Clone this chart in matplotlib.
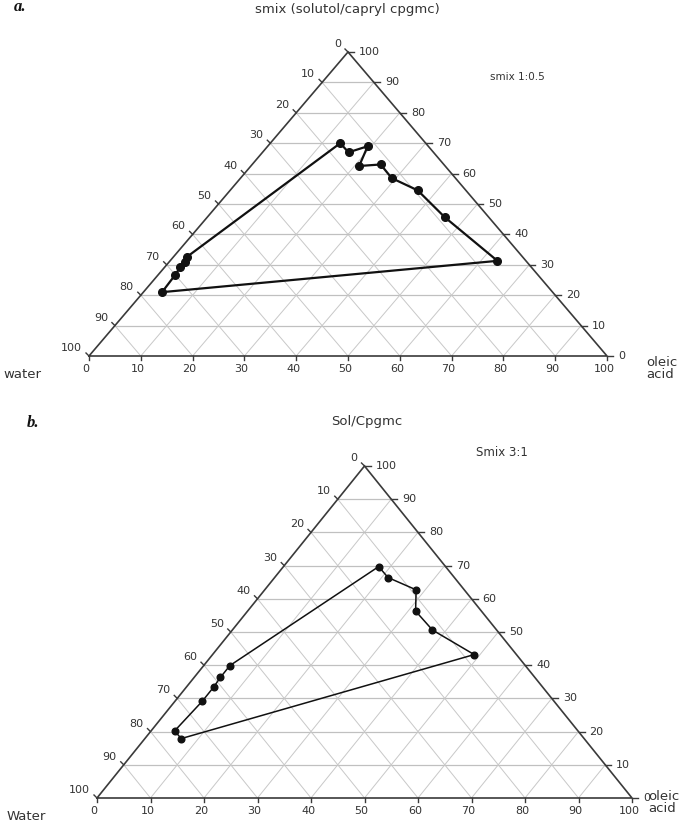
import matplotlib
matplotlib.use("Agg")
import matplotlib.pyplot as plt
import numpy as np

# ---------------- data (percent) ----------------
ticks = [0, 10, 20, 30, 40, 50, 60, 70, 80, 90, 100]

# panel a : Smix 1:0.5  (water = 100 - smix - oleic)
a_smix  = [70, 67, 69, 62.5, 63, 58.5, 54.5, 45.7, 31.3, 21.0, 26.6, 29.3, 31.0, 32.6]
a_oleic = [13.5, 16.6, 19.3, 20.9, 24.8, 29.2, 36.2, 45.8, 63.2, 3.6, 3.3, 3.0, 3.0, 2.6]

# panel b : Smix 3:1
b_smix  = [69.7, 66.4, 62.7, 56.3, 50.6, 43.2, 17.9, 20.2, 29.1, 33.4, 36.3, 39.9]
b_oleic = [17.8, 21.2, 28.3, 31.4, 37.4, 48.9, 6.8, 4.4, 5.1, 5.1, 4.9, 4.9]

TXT = "#333333"
W, H = 685, 824

fig = plt.figure(figsize=(W / 100, H / 100), dpi=100)


def tern(oleic, smix):
    o = np.asarray(oleic, float)
    s = np.asarray(smix, float)
    return o + s / 2.0, s


def panel(rect_px, smix, oleic, ms, lw, marker):
    x0, ytop, x1, ybase = rect_px
    wpx, hpx = x1 - x0, ybase - ytop
    ax = fig.add_axes([x0 / W, 1 - ybase / H, wpx / W, hpx / H])
    ax.set_xlim(0, 100)
    ax.set_ylim(0, 100)
    ax.axis("off")
    px_x = 100.0 / wpx
    px_y = 100.0 / hpx
    # grid
    for v in ticks[1:-1]:
        ax.plot([v / 2, 100 - v / 2], [v, v], color="#c0c0c0", lw=0.9, zorder=1)
        ax.plot([v, v + (100 - v) / 2], [0, 100 - v], color="#c8c8c8", lw=0.7, zorder=1)
        ax.plot([100 - v, (100 - v) / 2], [0, 100 - v], color="#c8c8c8", lw=0.7, zorder=1)
    # frame
    ax.plot([0, 100, 50, 0], [0, 0, 100, 0], color="#3a3a3a", lw=1.2, zorder=2,
            clip_on=False, solid_joinstyle="miter")
    # ticks + labels
    for v in ticks:
        ax.plot([v, v], [0, -4 * px_y], color="#3a3a3a", lw=1, clip_on=False)
        ax.annotate(str(v), (v, 0), xytext=(-3, -13), textcoords="offset pixels",
                    ha="center", va="center", fontsize=8, color=TXT, annotation_clip=False)
        xr = 100 - v / 2
        ax.plot([xr, xr + 6 * px_x], [v, v], color="#3a3a3a", lw=1, clip_on=False)
        ax.annotate(str(v), (xr, v), xytext=(11, 0), textcoords="offset pixels",
                    ha="left", va="center", fontsize=8, color=TXT, annotation_clip=False)
        sl = 100 - v
        xl = sl / 2
        ax.plot([xl, xl - 3 * px_x], [sl, sl + 3 * px_y], color="#3a3a3a", lw=1, clip_on=False)
        ax.annotate(str(v), (xl, sl), xytext=(-7, 8), textcoords="offset pixels",
                    ha="right", va="center", fontsize=8, color=TXT, annotation_clip=False)
    # data
    x, y = tern(oleic, smix)
    xc = np.append(x, x[0])
    yc = np.append(y, y[0])
    ax.plot(xc, yc, color="#111111", lw=lw, zorder=4, clip_on=False)
    ax.plot(x, y, linestyle="none", marker=marker, ms=ms, color="#111111", zorder=5,
            clip_on=False)
    return ax


panel((89, 52, 607, 356), a_smix, a_oleic, ms=5.5, lw=1.6, marker="o")
panel((97, 466, 632, 798), b_smix, b_oleic, ms=4.8, lw=1.1, marker="o")

# texts
serif = dict(family="Liberation Serif", weight="bold", style="italic", fontsize=12)
fig.text(20 / W, 1 - 7 / H, "a.", ha="center", va="center", color="#111111", **serif)
fig.text(33 / W, 1 - 423 / H, "b.", ha="center", va="center", color="#111111", **serif)

fig.text(347 / W, 1 - 10 / H, "smix (solutol/capryl cpgmc)", ha="center", va="center",
         fontsize=9.5, color=TXT)
fig.text(517 / W, 1 - 77 / H, "smix 1:0.5", ha="center", va="center", fontsize=7.5, color=TXT)
fig.text(22 / W, 1 - 374 / H, "water", ha="center", va="center", fontsize=9.5, color=TXT)
fig.text(646 / W, 1 - 369 / H, "oleic\nacid", ha="left", va="center", fontsize=9.5,
         color=TXT, linespacing=0.9)

fig.text(367 / W, 1 - 422 / H, "Sol/Cpgmc", ha="center", va="center", fontsize=9.5, color=TXT)
fig.text(502 / W, 1 - 452 / H, "Smix 3:1", ha="center", va="center", fontsize=8.5, color=TXT)
fig.text(26 / W, 1 - 816 / H, "Water", ha="center", va="center", fontsize=9.5, color=TXT)
fig.text(648 / W, 1 - 802 / H, "oleic\nacid", ha="left", va="center", fontsize=9.5,
         color=TXT, linespacing=0.9)

fig.savefig("out.png", dpi=100, facecolor="white")
